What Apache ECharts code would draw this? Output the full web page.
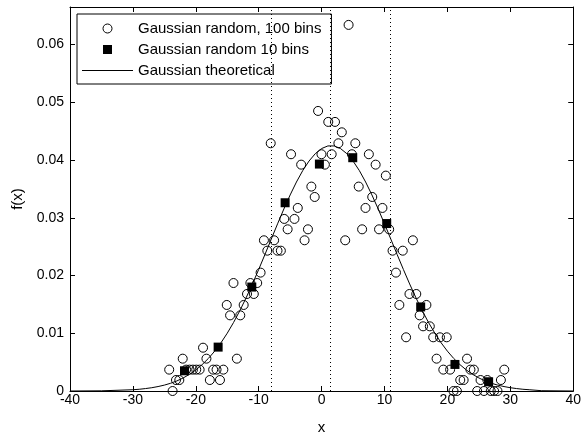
<!DOCTYPE html>
<html>
<head>
<meta charset="utf-8">
<script src="https://cdn.jsdelivr.net/npm/echarts@6/dist/echarts.min.js"></script>
<style>
html,body{margin:0;padding:0;background:#fff;}
#chart{width:584px;height:441px;}
</style>
</head>
<body>
<div id="chart"></div>
<script>
// 100-bin histogram (bin centres and densities)
const bins100X = [-24.23,-23.69,-23.15,-22.62,-22.08,-21.54,-21.00,-20.46,-19.93,-19.39,
  -18.85,-18.31,-17.77,-17.24,-16.70,-16.16,-15.62,-15.08,-14.55,-14.01,
  -13.47,-12.93,-12.39,-11.86,-11.32,-10.78,-10.24,-9.70,-9.17,-8.63,
  -8.09,-7.55,-7.01,-6.48,-5.94,-5.40,-4.86,-4.32,-3.79,-3.25,
  -2.71,-2.17,-1.63,-1.10,-0.56,-0.02,0.52,1.06,1.60,2.13,
  2.67,3.21,3.75,4.29,4.82,5.36,5.90,6.44,6.98,7.51,
  8.05,8.59,9.13,9.67,10.21,10.74,11.28,11.82,12.36,12.90,
  13.43,13.97,14.51,15.05,15.59,16.13,16.66,17.20,17.74,18.28,
  18.82,19.35,19.89,20.43,20.97,21.51,22.04,22.58,23.12,23.66,
  24.20,24.73,25.27,25.81,26.35,26.89,27.42,27.96,28.50,29.04];
const bins100Y = [0.0037,0,0.0019,0.0019,0.0056,0.0037,0.0037,0.0037,0.0037,0.0037,
  0.0075,0.0056,0.0019,0.0037,0.0037,0.0019,0.0037,0.0149,0.0131,0.0187,
  0.0056,0.0131,0.0149,0.0168,0.0187,0.0168,0.0187,0.0205,0.0261,0.0243,
  0.0429,0.0261,0.0243,0.0243,0.0298,0.0280,0.0410,0.0298,0.0317,0.0392,
  0.0261,0.0280,0.0354,0.0336,0.0485,0.0410,0.0392,0.0466,0.0410,0.0466,
  0.0429,0.0448,0.0261,0.0634,0.0410,0.0429,0.0354,0.0280,0.0317,0.0410,
  0.0336,0.0392,0.0280,0.0317,0.0373,0.0280,0.0243,0.0205,0.0149,0.0243,
  0.0093,0.0168,0.0261,0.0168,0.0131,0.0112,0.0149,0.0112,0.0093,0.0056,
  0.0093,0.0037,0.0093,0.0037,0,0,0.0019,0.0019,0.0056,0.0037,
  0.0037,0,0.0019,0,0.0019,0,0,0,0.0019,0.0037];

// 10-bin histogram
const bins10X = [-21.8,-16.45,-11.1,-5.8,-0.35,4.95,10.35,15.75,21.2,26.55];
const bins10Y = [0.0035,0.0076,0.0180,0.0326,0.0393,0.0404,0.0290,0.01456,0.0046,0.0016];

// theoretical curve
const theoX = [-40,-35,-30,-29,-28,-27,-26,-25,-24,-23,-22,-21,-20,-19,-18,-17,-16,-15,-14,-13,-12,-11,-10,-9,-8,-7,-6,-5,-4,-3,-2,-1,0,1,2,3,4,5,6,7,8,9,10,11,12,13,14,15,16,17,18,19,20,21,22,23,24,25,26,27,28,29,30,31,32,33,35,40];
const theoY = [0,0.00003,0.00022,0.00030,0.00042,0.00057,0.00077,0.00102,0.00134,0.00175,0.00226,0.00289,0.00365,0.00456,0.00564,0.00690,0.00835,0.01001,0.01186,0.01391,0.01614,0.01853,0.02105,0.02366,0.02631,0.02895,0.03152,0.03395,0.03619,0.03817,0.03982,0.04111,0.04199,0.04244,0.04244,0.04199,0.04111,0.03982,0.03817,0.03619,0.03395,0.03152,0.02895,0.02631,0.02366,0.02105,0.01853,0.01614,0.01391,0.01186,0.01001,0.00835,0.00690,0.00564,0.00456,0.00365,0.00289,0.00226,0.00175,0.00134,0.00102,0.00077,0.00057,0.00042,0.00030,0.00022,0.00005,0];

// dotted reference lines (mean and +/- one sigma)
const vLinesX = [-7.95, 1.45, 10.85];

const xTickLabels = ['-40','-30','-20','-10','0','10','20','30','40'];
const yTickLabels = ['0','0.01','0.02','0.03','0.04','0.05','0.06'];
const seriesNames = ['Gaussian random, 100 bins','Gaussian random 10 bins','Gaussian theoretical'];

const FONT = "'Liberation Sans', Arial, sans-serif";
const chart = echarts.init(document.getElementById('chart'), null, {renderer:'canvas'});

const axisCommon = {
  type:'value',
  axisLine:{show:true, onZero:false, lineStyle:{color:'#000', width:1}},
  axisTick:{show:true, inside:true, length:5, lineStyle:{color:'#000', width:1}},
  splitLine:{show:false}
};
function xLabel(v){ const i = Math.round((v+40)/10); return Math.abs(v-(-40+i*10))<1e-6 ? xTickLabels[i] : ''; }
function yLabel(v){ const i = Math.round(v/0.01); return (Math.abs(v-i*0.01)<1e-7 && i<yTickLabels.length) ? yTickLabels[i] : ''; }

const option = {
  animation:false,
  backgroundColor:'#fff',
  grid:{left:70, right:9, top:7, bottom:50, containLabel:false},
  legend:{
    orient:'vertical', left:77, top:14,
    padding:[6,10,5,5], itemGap:4, itemWidth:51, itemHeight:9,
    borderColor:'#000', borderWidth:1, backgroundColor:'#fff',
    selectedMode:false,
    textStyle:{color:'#000', fontSize:15, lineHeight:17, fontFamily:FONT},
    data:[
      {name:seriesNames[0], icon:'circle',
       itemStyle:{color:'rgba(0,0,0,0)', borderColor:'#000', borderWidth:1}},
      {name:seriesNames[1], icon:'path://M0,0L10,0L10,10L0,10Z',
       itemStyle:{color:'#000', borderWidth:0}},
      {name:seriesNames[2], icon:'path://M0,0L51,0L51,1L0,1Z',
       itemStyle:{color:'#000', borderWidth:0}, lineStyle:{width:0}}
    ]
  },
  xAxis:[
    Object.assign({}, axisCommon, {
      position:'bottom', min:-40, max:40, interval:10,
      axisLabel:{color:'#000', fontSize:14, margin:2, fontFamily:FONT, formatter:xLabel},
      name:'x', nameLocation:'middle', nameGap:29,
      nameTextStyle:{color:'#000', fontSize:15, fontFamily:FONT}
    }),
    Object.assign({}, axisCommon, {
      position:'top', min:-40, max:40, interval:10, axisLabel:{show:false}
    })
  ],
  yAxis:[
    Object.assign({}, axisCommon, {
      position:'left', min:0, max:0.0665, interval:0.01,
      axisLabel:{color:'#000', fontSize:14, margin:6, fontFamily:FONT, formatter:yLabel},
      name:'f(x)', nameLocation:'middle', nameGap:45, nameRotate:90,
      nameTextStyle:{color:'#000', fontSize:15, fontFamily:FONT}
    }),
    Object.assign({}, axisCommon, {
      position:'right', min:0, max:0.0665, interval:0.01, axisLabel:{show:false}
    })
  ],
  series:[
    {
      name:seriesNames[0], type:'scatter', xAxisIndex:0, yAxisIndex:0,
      symbol:'circle', symbolSize:9,
      itemStyle:{color:'rgba(0,0,0,0)', borderColor:'#000', borderWidth:1, opacity:1},
      emphasis:{disabled:true},
      data:bins100X.map((x,i)=>[x,bins100Y[i]]),
      z:2
    },
    {
      name:seriesNames[1], type:'scatter', xAxisIndex:0, yAxisIndex:0,
      symbol:'rect', symbolSize:9,
      itemStyle:{color:'#000', opacity:1},
      emphasis:{disabled:true},
      data:bins10X.map((x,i)=>[x,bins10Y[i]]),
      z:3
    },
    {
      name:seriesNames[2], type:'line', xAxisIndex:0, yAxisIndex:0,
      symbol:'none', smooth:false,
      lineStyle:{color:'#000', width:1},
      itemStyle:{color:'#000'},
      emphasis:{disabled:true},
      data:theoX.map((x,i)=>[x,theoY[i]]),
      markLine:{
        silent:true, symbol:['none','none'], label:{show:false},
        lineStyle:{color:'#000', width:1, type:[1,3]},
        emphasis:{disabled:true},
        data:vLinesX.map(v=>({xAxis:v}))
      },
      z:4
    }
  ]
};
chart.setOption(option);
</script>
</body>
</html>
